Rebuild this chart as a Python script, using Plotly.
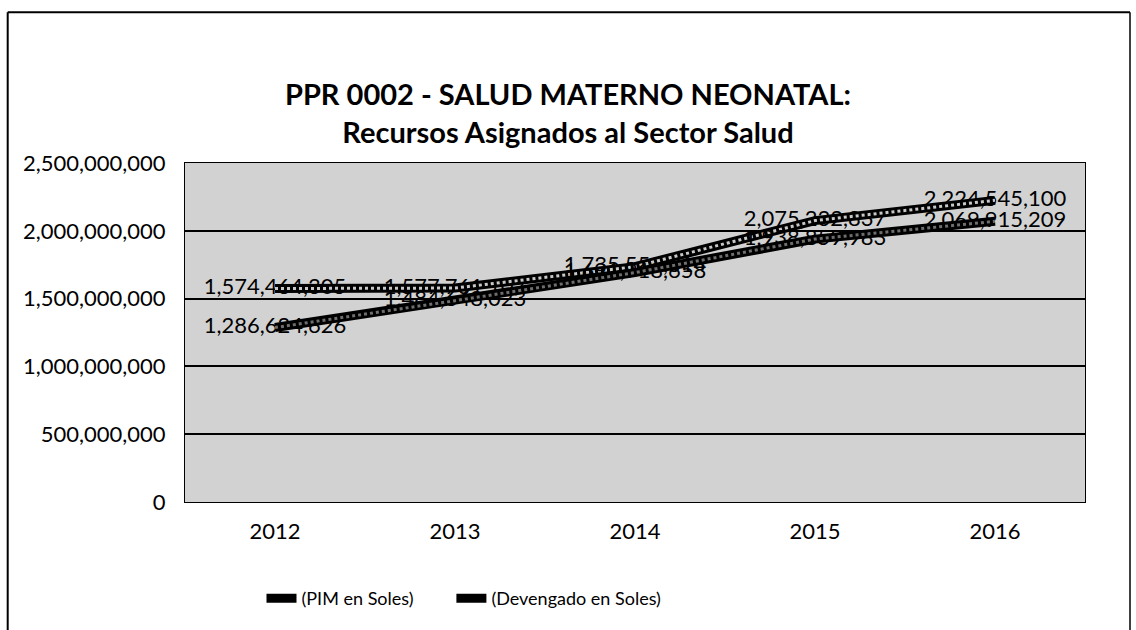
import plotly.graph_objects as go

# Budget of the maternal-neonatal health programme (soles)
years = ["2012", "2013", "2014", "2015", "2016"]
pim = [1574464305, 1577761107, 1735559314, 2075232837, 2224545100]
devengado = [1286624626, 1484648023, 1691918658, 1938859983, 2069915209]
y_ticks = [0, 500000000, 1000000000, 1500000000, 2000000000, 2500000000]

FONT = "Lato"

fig = go.Figure()

series = [
    ("(PIM en Soles)", pim, "#c8c8c8", "legend"),
    ("(Devengado en Soles)", devengado, "#6e6e6e", "legend2"),
]

for name, vals, inner, leg in series:
    # dark outer stroke with value labels
    fig.add_trace(go.Scatter(
        x=years, y=vals, name=name, legendgroup=name, legend=leg,
        mode="lines+text",
        line=dict(color="black", width=9),
        text=[f"{v:,}" for v in vals],
        textposition="middle center",
        textfont=dict(family=FONT, size=22, color="black"),
        showlegend=True,
    ))
    # lighter core of the stroke
    fig.add_trace(go.Scatter(
        x=years, y=vals, name=name, legendgroup=name, legend=leg,
        mode="lines",
        line=dict(color=inner, width=3, dash="dot"),
        showlegend=False, hoverinfo="skip",
    ))

legend_style = dict(
    orientation="h", xanchor="left", y=-0.23, yanchor="top",
    font=dict(family=FONT, size=18, color="black"),
    bgcolor="rgba(0,0,0,0)",
)

fig.update_layout(
    width=1136, height=630,
    margin=dict(l=185, r=51, t=163, b=128),
    paper_bgcolor="white",
    plot_bgcolor="#d2d2d2",
    title=dict(
        text="<b>PPR 0002 - SALUD MATERNO NEONATAL:</b><br><b>Recursos Asignados al Sector Salud</b>",
        x=0.5, xanchor="center", y=0.833, yanchor="middle",
        font=dict(family=FONT, size=29, color="black"),
    ),
    font=dict(family=FONT, size=22, color="black"),
    legend=dict(x=0.085, **legend_style),
    legend2=dict(x=0.296, **legend_style),
    showlegend=True,
)

fig.update_xaxes(
    type="category", range=[-0.5, 4.5],
    showgrid=False, zeroline=False,
    showline=True, linecolor="black", linewidth=1, mirror=True,
    ticks="", ticklabelstandoff=10,
    tickfont=dict(family=FONT, size=22, color="black"),
)
fig.update_yaxes(
    range=[0, 2500000000], tickvals=y_ticks, tickformat=",d",
    showgrid=True, gridcolor="black", gridwidth=1.5,
    zeroline=False,
    showline=True, linecolor="black", linewidth=1, mirror=True,
    ticks="", ticklabelstandoff=14,
    tickfont=dict(family=FONT, size=22, color="black"),
)

# outer chart frame
fig.add_shape(type="line", xref="paper", yref="paper",
              x0=-0.197, x1=1.05, y0=1.445, y1=1.445,
              line=dict(color="black", width=2))
fig.add_shape(type="line", xref="paper", yref="paper",
              x0=-0.197, x1=-0.197, y0=1.445, y1=-0.40,
              line=dict(color="black", width=2))
fig.add_shape(type="line", xref="paper", yref="paper",
              x0=1.05, x1=1.05, y0=1.445, y1=-0.40,
              line=dict(color="black", width=1.5))

fig.write_html("out.html")
